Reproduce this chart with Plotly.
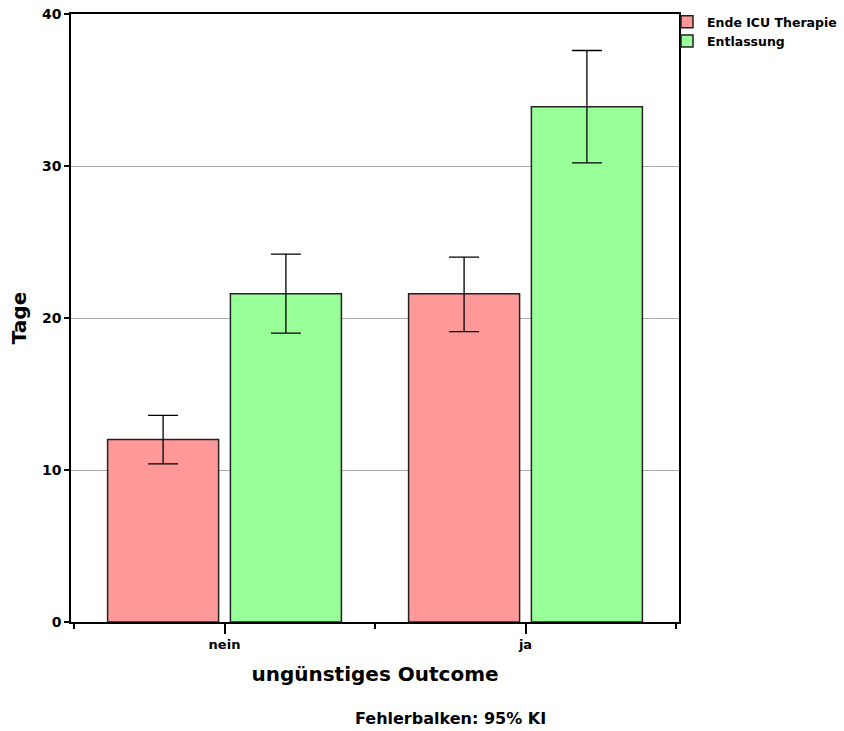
import plotly.graph_objects as go

categories = ["nein", "ja"]
icu_mean = [12.0, 21.6]
icu_upper = [13.6, 24.0]
icu_lower = [10.4, 19.1]
ent_mean = [21.6, 33.9]
ent_upper = [24.2, 37.6]
ent_lower = [19.0, 30.2]
y_ticks = [0, 10, 20, 30, 40]

xpos = list(range(len(categories)))
FONT = "DejaVu Sans, Verdana, sans-serif"

W, H = 844, 731
ML, MR, MT, MB = 71, 165, 14, 109
PW, PH = W - ML - MR, H - MT - MB


def err(mean, up, lo):
    return dict(type="data", symmetric=False,
                array=[u - m for u, m in zip(up, mean)],
                arrayminus=[m - l for m, l in zip(mean, lo)],
                color="black", thickness=1.3, width=15)


fig = go.Figure()
fig.add_trace(go.Bar(x=xpos, y=icu_mean, name="Ende ICU Therapie",
                     marker=dict(color="#FF9999", line=dict(color="#222222", width=1.5)),
                     error_y=err(icu_mean, icu_upper, icu_lower)))
fig.add_trace(go.Bar(x=xpos, y=ent_mean, name="Entlassung",
                     marker=dict(color="#99FF99", line=dict(color="#222222", width=1.5)),
                     error_y=err(ent_mean, ent_upper, ent_lower)))

fig.update_layout(
    width=W, height=H,
    margin=dict(l=ML, r=MR, t=MT, b=MB, autoexpand=False),
    paper_bgcolor="white", plot_bgcolor="white",
    barmode="group", bargap=0.184, bargroupgap=0.096,
    font=dict(family=FONT, color="black"),
    showlegend=True,
    legend=dict(x=1.0 - 12 / PW, y=1.0 + 7 / PH, xanchor="left", yanchor="top",
                font=dict(family=FONT, size=12.5, color="black", weight="bold"),
                itemwidth=30, tracegroupgap=0, traceorder="normal",
                bgcolor="rgba(0,0,0,0)"),
    xaxis=dict(range=[-0.51, 1.51], tickvals=xpos, ticktext=categories,
               ticks="outside", ticklen=10, tickwidth=1.5, tickcolor="black",
               tickfont=dict(family=FONT, size=13, weight="bold"),
               minor=dict(tickvals=[-0.5, 0.5, 1.5], ticks="outside", ticklen=5,
                          tickwidth=1.5, tickcolor="black", showgrid=False),
               showline=True, linecolor="black", linewidth=1.5, mirror=True,
               showgrid=False, zeroline=False,
               title=dict(text="ungünstiges Outcome", standoff=16,
                          font=dict(family=FONT, size=20, weight="bold"))),
    yaxis=dict(range=[0, 40], tickvals=y_ticks,
               ticks="outside", ticklen=5, tickwidth=1.5, tickcolor="black",
               tickfont=dict(family=FONT, size=14, weight="bold"),
               showline=True, linecolor="black", linewidth=1.5, mirror=True,
               showgrid=True, gridcolor="#AAAAAA", gridwidth=1.2, zeroline=False,
               title=dict(text="Tage", standoff=10,
                          font=dict(family=FONT, size=20, weight="bold"))),
    annotations=[dict(text="Fehlerbalken: 95% KI",
                      x=(450 - ML) / PW, y=(MT + PH - 718) / PH,
                      xref="paper", yref="paper", xanchor="center", yanchor="middle",
                      showarrow=False, font=dict(family=FONT, size=16, weight="bold"))],
)

fig.write_html("out.html", config={"displayModeBar": False},
               post_script="document.body.style.margin='0';")
